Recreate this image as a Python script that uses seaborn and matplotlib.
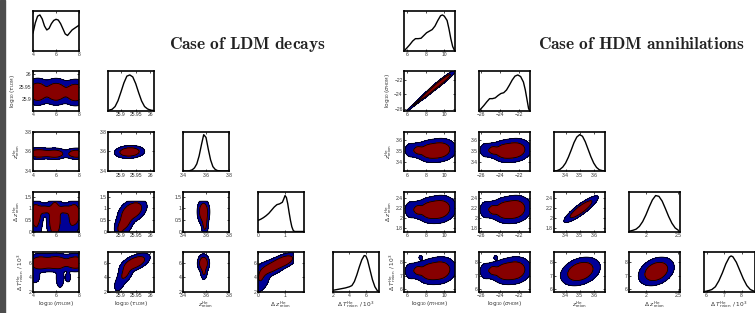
import numpy as np
import matplotlib
matplotlib.use("Agg")
import matplotlib.pyplot as plt
from matplotlib.patches import Rectangle
import seaborn as sns

# ---------------- data ----------------
titles = ["Case of LDM decays", "Case of HDM annihilations"]

# LDM variables
ldm_labels = [r"$\log_{10}(m_{\rm LDM})$", r"$\log_{10}(\tau_{\rm LDM})$",
              r"$z^{\rm He}_{\rm reion}$", r"$\Delta\ z^{\rm He}_{\rm reion}$",
              r"$\Delta\ T^{\rm He}_{\rm reion}\ /\ 10^3$"]
ldm_limits = [(4.0, 8.0), (25.856, 26.012), (3.4, 3.8), (0.0, 1.7), (2.0, 7.6)]
ldm_xticks = [[4, 6, 8], [25.9, 25.95, 26], [3.4, 3.6, 3.8], [0, 1], [2, 4, 6]]
ldm_yticks = [[4, 6, 8], [25.9, 25.95, 26], [3.4, 3.6, 3.8], [0, 0.5, 1, 1.5], [2, 4, 6]]
ldm_dz_cut = 1.3

# LDM 1D marginals
ldm_m_x = [4.0, 4.2, 4.4, 4.6, 4.8, 5.0, 5.2, 5.4, 5.6, 5.8, 6.0, 6.2, 6.4, 6.6, 6.8, 7.0, 7.2, 7.4, 7.6, 7.8, 8.0]
ldm_m_p = [0.44, 0.70, 0.87, 0.90, 0.80, 0.62, 0.52, 0.56, 0.68, 0.76, 0.79, 0.77, 0.68, 0.55, 0.42, 0.38, 0.45, 0.52, 0.56, 0.60, 0.64]
ldm_tau_x = [25.86, 25.87, 25.88, 25.89, 25.90, 25.91, 25.92, 25.93, 25.94, 25.95, 25.96, 25.97, 25.98, 25.99, 26.00, 26.01]
ldm_tau_p = [0.01, 0.03, 0.10, 0.25, 0.47, 0.70, 0.87, 0.90, 0.85, 0.68, 0.45, 0.24, 0.10, 0.04, 0.01, 0.0]
ldm_z_x = [3.40, 3.44, 3.46, 3.48, 3.50, 3.52, 3.54, 3.56, 3.58, 3.60, 3.62, 3.64, 3.66, 3.68, 3.70, 3.74, 3.80]
ldm_z_p = [0.0, 0.0, 0.01, 0.03, 0.08, 0.18, 0.38, 0.66, 0.92, 0.85, 0.55, 0.28, 0.11, 0.04, 0.01, 0.0, 0.0]
ldm_dz_x = [0.0, 0.1, 0.2, 0.3, 0.4, 0.5, 0.6, 0.7, 0.8, 0.9, 0.95, 1.0, 1.05, 1.1, 1.15, 1.2, 1.25, 1.3, 1.35, 1.7]
ldm_dz_p = [0.28, 0.31, 0.35, 0.40, 0.46, 0.54, 0.62, 0.68, 0.70, 0.74, 0.82, 0.91, 0.86, 0.70, 0.48, 0.28, 0.12, 0.03, 0.0, 0.0]
ldm_dT_x = [2.0, 2.5, 3.0, 3.5, 4.0, 4.3, 4.6, 4.9, 5.2, 5.5, 5.8, 6.0, 6.2, 6.5, 6.8, 7.1, 7.4, 7.6]
ldm_dT_p = [0.03, 0.05, 0.07, 0.09, 0.12, 0.15, 0.25, 0.42, 0.62, 0.80, 0.91, 0.90, 0.80, 0.55, 0.30, 0.12, 0.02, 0.0]

# LDM 2D posteriors: components (weight, x0, y0, sx, sy, rho)
ldm_m_tau = [(1.0, 4.4, 25.930, 0.45, 0.022, 0.0), (0.95, 6.0, 25.930, 0.5, 0.022, 0.0),
             (0.9, 7.7, 25.927, 0.5, 0.022, 0.0)]
ldm_m_z = [(1.0, 4.5, 3.578, 0.55, 0.024, 0.0), (0.9, 5.9, 3.575, 0.45, 0.024, 0.0),
           (0.9, 7.8, 3.575, 0.45, 0.024, 0.0)]
ldm_tau_z = [(1.0, 25.929, 3.593, 0.021, 0.027, 0.1)]
ldm_m_dz = [(0.9, 4.2, 0.75, 0.3, 0.27, 0.0), (1.0, 5.9, 0.55, 0.3, 0.45, 0.0),
            (0.9, 7.6, 0.75, 0.3, 0.27, 0.0), (0.6, 5.0, 0.95, 0.35, 0.12, 0.0),
            (0.6, 6.8, 0.95, 0.35, 0.12, 0.0), (0.2, 4.3, 0.15, 0.25, 0.25, 0.0),
            (0.2, 7.2, 0.15, 0.35, 0.3, 0.0)]
ldm_tau_dz = [(1.0, 25.94, 0.9, 0.02, 0.22, 0.35), (0.6, 25.915, 0.45, 0.013, 0.27, 0.3),
              (0.3, 25.895, 0.1, 0.009, 0.22, 0.0)]
ldm_z_dz = [(1.0, 3.578, 0.85, 0.023, 0.24, 0.0), (0.5, 3.59, 0.35, 0.014, 0.27, 0.0)]
ldm_m_dT = [(1.0, 4.6, 6.05, 0.5, 0.55, 0.0), (1.0, 6.0, 6.1, 0.55, 0.55, 0.0),
            (0.9, 7.7, 6.1, 0.5, 0.55, 0.0), (0.22, 4.15, 4.1, 0.25, 0.5, 0.0),
            (0.2, 6.35, 3.9, 0.2, 0.8, 0.0), (0.14, 7.05, 4.0, 0.15, 0.45, 0.0)]
ldm_tau_dT = [(1.0, 25.948, 6.1, 0.021, 0.55, 0.55), (0.45, 25.915, 4.6, 0.013, 0.75, 0.5),
              (0.18, 25.893, 3.0, 0.009, 0.55, 0.3)]
ldm_z_dT = [(1.0, 3.578, 6.0, 0.022, 0.55, 0.0), (0.35, 3.582, 4.7, 0.014, 0.5, 0.0)]
ldm_dz_dT = [(1.0, 0.95, 6.3, 0.22, 0.5, 0.55), (0.6, 0.5, 5.4, 0.24, 0.6, 0.5),
             (0.35, 0.1, 3.9, 0.17, 1.0, 0.3)]

# HDM variables
hdm_labels = [r"$\log_{10}(m_{\rm HDM})$", r"$\log_{10}(\sigma_{\rm HDM})$",
              r"$z^{\rm He}_{\rm reion}$", r"$\Delta\ z^{\rm He}_{\rm reion}$",
              r"$\Delta\ T^{\rm He}_{\rm reion}\ /\ 10^3$"]
hdm_limits = [(5.7, 11.15), (-26.2, -20.8), (3.32, 3.68), (1.74, 2.52), (5.85, 8.75)]
hdm_xticks = [[6, 8, 10], [-26, -24, -22], [3.4, 3.5, 3.6], [2, 2.5], [6, 7, 8]]
hdm_yticks = [[6, 8, 10], [-26, -24, -22], [3.4, 3.5, 3.6], [1.8, 2, 2.2, 2.4], [6, 7, 8]]

hdm_m_x = [5.8, 6.0, 6.3, 6.6, 6.9, 7.2, 7.5, 7.8, 8.1, 8.4, 8.7, 9.0, 9.3, 9.6, 9.8, 10.0, 10.3, 10.5, 10.7, 10.9, 11.1]
hdm_m_p = [0.02, 0.07, 0.15, 0.24, 0.30, 0.30, 0.31, 0.38, 0.45, 0.49, 0.53, 0.62, 0.76, 0.88, 0.90, 0.87, 0.76, 0.55, 0.30, 0.10, 0.0]
hdm_s_x = [-26.2, -26.0, -25.7, -25.4, -25.1, -24.8, -24.5, -24.2, -23.9, -23.6, -23.3, -23.0, -22.7, -22.4, -22.1, -21.8, -21.5, -21.3, -21.1, -20.95, -20.85]
hdm_s_p = [0.0, 0.05, 0.13, 0.22, 0.30, 0.30, 0.32, 0.38, 0.43, 0.45, 0.52, 0.64, 0.77, 0.87, 0.90, 0.86, 0.72, 0.52, 0.25, 0.05, 0.0]
hdm_z_x = [3.32, 3.34, 3.36, 3.38, 3.40, 3.42, 3.44, 3.46, 3.48, 3.50, 3.52, 3.54, 3.56, 3.58, 3.60, 3.62, 3.64, 3.66, 3.68]
hdm_z_p = [0.0, 0.01, 0.04, 0.10, 0.20, 0.35, 0.53, 0.72, 0.86, 0.92, 0.88, 0.74, 0.55, 0.36, 0.20, 0.09, 0.03, 0.01, 0.0]
hdm_dz_x = [1.75, 1.80, 1.85, 1.90, 1.95, 2.00, 2.05, 2.10, 2.15, 2.20, 2.25, 2.30, 2.35, 2.40, 2.45, 2.50]
hdm_dz_p = [0.01, 0.03, 0.06, 0.13, 0.25, 0.42, 0.62, 0.80, 0.91, 0.89, 0.77, 0.58, 0.38, 0.21, 0.09, 0.03]
hdm_dT_x = [5.9, 6.1, 6.3, 6.5, 6.7, 6.9, 7.1, 7.3, 7.4, 7.5, 7.7, 7.9, 8.1, 8.3, 8.5, 8.7]
hdm_dT_p = [0.0, 0.02, 0.05, 0.12, 0.27, 0.47, 0.70, 0.87, 0.90, 0.88, 0.74, 0.53, 0.32, 0.15, 0.05, 0.01]

hdm_m_s = [(1.0, 9.6, -22.37, 0.7, 0.72, 0.965), (0.75, 8.2, -23.88, 0.55, 0.58, 0.965),
           (0.4, 6.95, -25.22, 0.3, 0.32, 0.96), (0.15, 6.3, -25.92, 0.3, 0.32, 0.96)]
hdm_m_z = [(1.0, 9.5, 3.51, 0.75, 0.045, 0.1), (0.7, 8.3, 3.50, 0.6, 0.042, 0.0),
           (0.45, 7.15, 3.51, 0.3, 0.03, 0.0), (0.25, 6.4, 3.51, 0.35, 0.035, 0.0)]
hdm_s_z = [(1.0, -22.43, 3.51, 0.74, 0.045, 0.1), (0.7, -23.62, 3.50, 0.59, 0.042, 0.0),
           (0.45, -24.76, 3.51, 0.3, 0.03, 0.0), (0.25, -25.51, 3.51, 0.35, 0.035, 0.0)]
hdm_z_dz = [(1.0, 3.51, 2.18, 0.05, 0.108, 0.88)]
hdm_m_dz = [(1.0, 9.5, 2.18, 0.75, 0.115, 0.1), (0.7, 8.3, 2.16, 0.6, 0.105, 0.0),
            (0.45, 7.15, 2.17, 0.3, 0.075, 0.0), (0.25, 6.4, 2.17, 0.35, 0.09, 0.0)]
hdm_s_dz = [(1.0, -22.43, 2.18, 0.74, 0.115, 0.1), (0.7, -23.62, 2.16, 0.59, 0.105, 0.0),
            (0.45, -24.76, 2.17, 0.3, 0.075, 0.0), (0.25, -25.51, 2.17, 0.35, 0.09, 0.0)]
hdm_m_dT = [(1.0, 9.5, 7.40, 0.75, 0.42, 0.1), (0.7, 8.3, 7.30, 0.6, 0.38, 0.0),
            (0.45, 7.15, 7.40, 0.3, 0.27, 0.0), (0.25, 6.4, 7.35, 0.35, 0.32, 0.0),
            (0.11, 7.46, 8.35, 0.15, 0.12, 0.0)]
hdm_s_dT = [(1.0, -22.43, 7.40, 0.74, 0.42, 0.1), (0.7, -23.62, 7.30, 0.59, 0.38, 0.0),
            (0.45, -24.76, 7.40, 0.3, 0.27, 0.0), (0.25, -25.51, 7.35, 0.35, 0.32, 0.0),
            (0.11, -24.46, 8.35, 0.15, 0.12, 0.0)]
hdm_z_dT = [(1.0, 3.505, 7.32, 0.058, 0.43, 0.3)]
hdm_dz_dT = [(1.0, 2.16, 7.32, 0.113, 0.43, 0.3)]

# ---------------- style ----------------
sns.set_theme(style="white")
plt.rcParams["font.family"] = ["Liberation Sans", "DejaVu Sans"]
plt.rcParams["mathtext.fontset"] = "dejavusans"

BLUE = "#000096"
RED = "#870000"
LEVELS = [0.05, 0.3]
TICKCOL = "#333333"

W, H = 755, 313
fig = plt.figure(figsize=(W / 100, H / 100), dpi=100)
fig.patches.append(Rectangle((0, 0), 5 / W, 1, transform=fig.transFigure,
                             color="#4d4d4d", zorder=0))


def fmt(v):
    return f"{v:g}".replace("-", "\u2212")


def density(comps, xr, yr, xcut=None, ycut=None, n=260):
    xs = np.linspace(xr[0], xr[1], n)
    ys = np.linspace(yr[0], yr[1], n)
    X, Y = np.meshgrid(xs, ys)
    Z = np.zeros_like(X)
    for w, cx, cy, sx, sy, r in comps:
        dx = (X - cx) / sx
        dy = (Y - cy) / sy
        Z += w * np.exp(-(dx * dx - 2 * r * dx * dy + dy * dy) / (2 * (1 - r * r)))
    Z /= Z.max()
    if xcut is not None:
        Z[X > xcut] = 0
    if ycut is not None:
        Z[Y > ycut] = 0
    return X, Y, Z


def style_ax(ax):
    for s in ax.spines.values():
        s.set_color("black")
        s.set_linewidth(1.2)
    ax.tick_params(direction="in", length=1.5, width=0.5, labelsize=3.6,
                   pad=1.2, colors="black", labelcolor=TICKCOL,
                   top=True, right=True, bottom=True, left=True)
    ax.set_facecolor("white")


def corner(col_left, col_w, row_top, row_h, labels, limits, xticks, yticks,
           marg, pairs, cuts):
    n = len(labels)
    for i in range(n):
        for j in range(i + 1):
            ax = fig.add_axes([col_left[j] / W, 1 - (row_top[i] + row_h) / H,
                               col_w / W, row_h / H])
            style_ax(ax)
            if i == j:
                xs, ps = marg[i]
                sns.lineplot(x=xs, y=ps, ax=ax, color="black", linewidth=1.0,
                             estimator=None, sort=False)
                ax.set_ylim(0, 1)
                ax.set_yticks([])
            else:
                comps = pairs[(i, j)]
                X, Y, Z = density(comps, limits[j], limits[i],
                                  xcut=cuts.get(j), ycut=cuts.get(i))
                ax.contourf(X, Y, Z, levels=[LEVELS[0], LEVELS[1], 10],
                            colors=[BLUE, RED])
                ax.contour(X, Y, Z, levels=LEVELS, colors="black", linewidths=0.6)
                ax.set_ylim(*limits[i])
                ax.set_yticks(yticks[i], labels=[fmt(v) for v in yticks[i]])
            ax.set_xlim(*limits[j])
            ax.set_xticks(xticks[j], labels=[fmt(v) for v in xticks[j]])
            ax.set_xlabel("")
            ax.set_ylabel("")
            if j == 0 and i > 0:
                ax.set_ylabel(labels[i], fontsize=4.2, labelpad=1.5, color=TICKCOL)
            if i == n - 1:
                ax.set_xlabel(labels[j], fontsize=4.2, labelpad=0.5, color=TICKCOL)


row_top = [11, 71, 131.5, 192, 252]
row_h = 39.5

ldm_marg = [(ldm_m_x, ldm_m_p), (ldm_tau_x, ldm_tau_p), (ldm_z_x, ldm_z_p),
            (ldm_dz_x, ldm_dz_p), (ldm_dT_x, ldm_dT_p)]
ldm_pairs = {(1, 0): ldm_m_tau, (2, 0): ldm_m_z, (2, 1): ldm_tau_z,
             (3, 0): ldm_m_dz, (3, 1): ldm_tau_dz, (3, 2): ldm_z_dz,
             (4, 0): ldm_m_dT, (4, 1): ldm_tau_dT, (4, 2): ldm_z_dT, (4, 3): ldm_dz_dT}
corner([33, 108, 183, 258, 333], 46, row_top, row_h, ldm_labels, ldm_limits,
       ldm_xticks, ldm_yticks, ldm_marg, ldm_pairs, {3: ldm_dz_cut})

hdm_marg = [(hdm_m_x, hdm_m_p), (hdm_s_x, hdm_s_p), (hdm_z_x, hdm_z_p),
            (hdm_dz_x, hdm_dz_p), (hdm_dT_x, hdm_dT_p)]
hdm_pairs = {(1, 0): hdm_m_s, (2, 0): hdm_m_z, (2, 1): hdm_s_z,
             (3, 0): hdm_m_dz, (3, 1): hdm_s_dz, (3, 2): hdm_z_dz,
             (4, 0): hdm_m_dT, (4, 1): hdm_s_dT, (4, 2): hdm_z_dT, (4, 3): hdm_dz_dT}
corner([404.3, 479.3, 554.3, 629, 704], 50.7, row_top, row_h, hdm_labels, hdm_limits,
       hdm_xticks, hdm_yticks, hdm_marg, hdm_pairs, {})

fig.text(247 / W, 1 - 49 / H, r"$\mathbf{" + titles[0].replace(" ", r"\ ") + "}$",
         math_fontfamily="cm", fontsize=12.5, ha="center", va="baseline", color="#222222")
fig.text(641 / W, 1 - 49 / H, r"$\mathbf{" + titles[1].replace(" ", r"\ ") + "}$",
         math_fontfamily="cm", fontsize=12.5, ha="center", va="baseline", color="#222222")

fig.savefig("out.png", dpi=100)
